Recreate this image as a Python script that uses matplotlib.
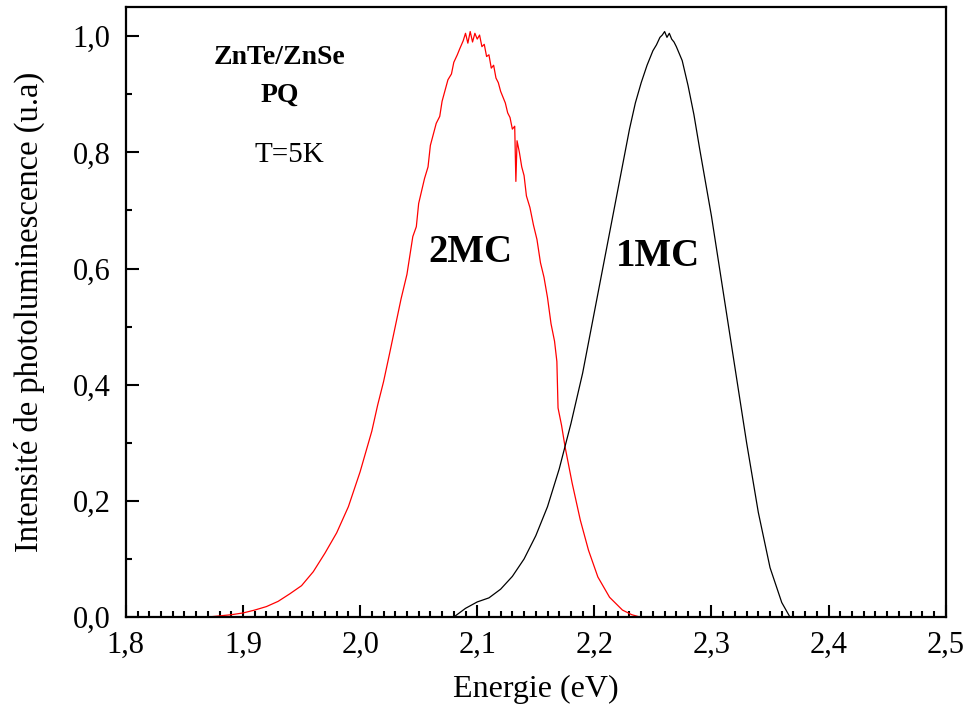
import matplotlib

matplotlib.use("Agg")
import matplotlib.pyplot as plt
from matplotlib.ticker import FuncFormatter, MultipleLocator

plt.rcParams["font.family"] = ["Liberation Serif", "DejaVu Serif"]

# 2MC spectrum (red)
energy_2mc = [
    1.80, 1.87, 1.88, 1.89, 1.90, 1.91, 1.92, 1.93, 1.94, 1.95, 1.96, 1.97,
    1.98, 1.99, 2.00, 2.005, 2.01, 2.015, 2.02, 2.025, 2.03, 2.035, 2.04,
    2.045, 2.048, 2.05, 2.055, 2.058, 2.06, 2.065, 2.068, 2.07, 2.075,
    2.078, 2.08, 2.083, 2.085, 2.088, 2.090, 2.092, 2.094, 2.096, 2.098,
    2.100, 2.102, 2.104, 2.106, 2.108, 2.110, 2.112, 2.114, 2.116, 2.118,
    2.120, 2.122, 2.124, 2.126, 2.128, 2.130, 2.132, 2.133, 2.134, 2.136,
    2.138, 2.140, 2.142, 2.145, 2.148, 2.151, 2.154, 2.157, 2.160, 2.163,
    2.166, 2.168, 2.169, 2.172, 2.175, 2.181, 2.188, 2.195, 2.203, 2.213,
    2.224, 2.232, 2.239, 2.50,
]
intensity_2mc = [
    0.0, 0.0, 0.002, 0.004, 0.007, 0.012, 0.018, 0.027, 0.040, 0.054, 0.078,
    0.110, 0.145, 0.190, 0.250, 0.285, 0.320, 0.365, 0.405, 0.452, 0.500,
    0.548, 0.590, 0.655, 0.672, 0.712, 0.755, 0.775, 0.812, 0.850, 0.862,
    0.888, 0.925, 0.935, 0.955, 0.968, 0.978, 0.992, 1.005, 0.988, 1.008,
    0.990, 1.005, 0.995, 1.002, 0.982, 0.986, 0.965, 0.968, 0.945, 0.950,
    0.928, 0.920, 0.905, 0.895, 0.885, 0.868, 0.860, 0.840, 0.845, 0.750,
    0.820, 0.800, 0.775, 0.760, 0.725, 0.705, 0.675, 0.650, 0.610, 0.585,
    0.550, 0.505, 0.475, 0.440, 0.360, 0.330, 0.293, 0.231, 0.167, 0.115,
    0.069, 0.034, 0.012, 0.004, 0.0, 0.0,
]

# 1MC spectrum (black)
energy_1mc = [
    1.80, 2.08, 2.09, 2.10, 2.11, 2.12, 2.13, 2.14, 2.15, 2.16, 2.17, 2.18,
    2.19, 2.20, 2.21, 2.22, 2.23, 2.235, 2.24, 2.245, 2.25, 2.253, 2.256,
    2.258, 2.260, 2.262, 2.264, 2.266, 2.268, 2.27, 2.275, 2.28, 2.285,
    2.29, 2.30, 2.31, 2.32, 2.33, 2.34, 2.35, 2.36, 2.367, 2.50,
]
intensity_1mc = [
    0.0, 0.0, 0.015, 0.026, 0.033, 0.048, 0.070, 0.100, 0.140, 0.190, 0.255,
    0.333, 0.420, 0.525, 0.630, 0.735, 0.840, 0.885, 0.920, 0.950, 0.975,
    0.985, 0.998, 1.002, 1.008, 0.998, 1.005, 0.995, 0.990, 0.982, 0.958,
    0.915, 0.865, 0.805, 0.690, 0.560, 0.430, 0.300, 0.180, 0.085, 0.025,
    0.0, 0.0,
]

fig = plt.figure(figsize=(9.68, 7.15), dpi=100)
ax = fig.add_axes([0.130, 0.137, 0.847, 0.853])

ax.plot(energy_2mc, intensity_2mc, color="red", linewidth=0.9, zorder=2)
ax.plot(energy_1mc, intensity_1mc, color="black", linewidth=0.9, zorder=2)

ax.set_xlim(1.8, 2.5)
ax.set_ylim(0.0, 1.05)

ax.xaxis.set_major_locator(MultipleLocator(0.1))
ax.xaxis.set_minor_locator(MultipleLocator(0.01))
ax.yaxis.set_major_locator(MultipleLocator(0.2))
ax.yaxis.set_minor_locator(MultipleLocator(0.1))

comma = FuncFormatter(lambda v, _: f"{v:.1f}".replace(".", ","))
ax.xaxis.set_major_formatter(comma)
ax.yaxis.set_major_formatter(comma)

ax.tick_params(which="both", direction="in", top=False, right=False,
               labelsize=22, width=1.5)
ax.tick_params(which="major", length=9)
ax.tick_params(which="minor", length=4.5)
ax.tick_params(axis="x", pad=10)
ax.tick_params(axis="y", pad=11)

for spine in ax.spines.values():
    spine.set_linewidth(1.6)
    spine.set_zorder(3)

ax.set_xlabel("Energie (eV)", fontsize=23, labelpad=11)
ax.set_ylabel("Intensité de photoluminescence (u.a)", fontsize=23.5, labelpad=20)

ax.text(1.9315, 0.964, "ZnTe/ZnSe", fontsize=20, fontweight="bold",
        ha="center", va="center")
ax.text(1.9315, 0.898, "PQ", fontsize=20, fontweight="bold",
        ha="center", va="center")
ax.text(1.94, 0.795, "T=5K", fontsize=21, ha="center", va="center")
ax.text(2.094, 0.627, "2MC", fontsize=28, fontweight="bold",
        ha="center", va="center")
ax.text(2.254, 0.62, "1MC", fontsize=28, fontweight="bold",
        ha="center", va="center")

fig.savefig("out.png", dpi=100)
